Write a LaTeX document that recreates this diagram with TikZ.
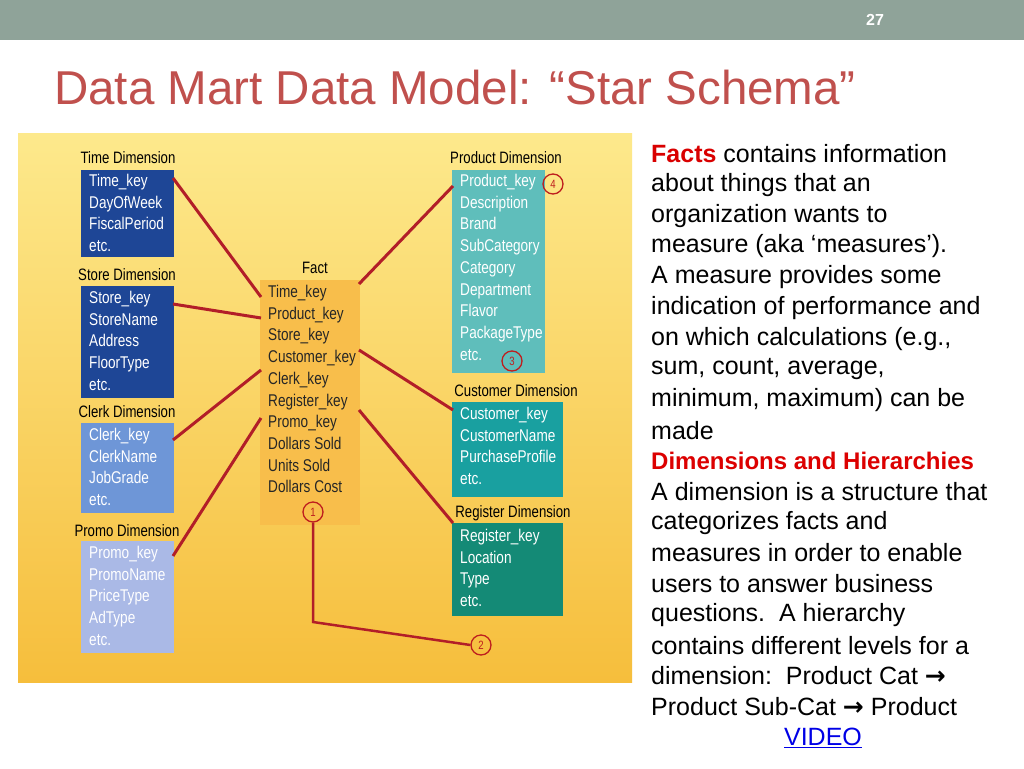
\documentclass[tikz,border=0pt]{standalone}
\usepackage{fontspec}
\setmainfont{Liberation Sans}
\newfontfamily\narrow[FakeStretch=0.8]{Liberation Sans}
\newfontfamily\dv{DejaVu Sans}
\begin{document}
\begin{tikzpicture}[x=1pt,y=-1pt,
  box/.style={anchor=north west,inner sep=0pt,draw=none},
  entries/.style={anchor=north west,align=left,text=white,font=\narrow\fontsize{17}{21.7}\selectfont,inner sep=0pt},
  lab/.style={font=\narrow\fontsize{16.5}{18}\selectfont,inner sep=0pt},
  link/.style={draw={rgb,255:red,178;green,30;blue,40},line width=3pt},
  numcirc/.style={circle,draw={rgb,255:red,190;green,30;blue,30},line width=1.3pt,minimum size=20pt,inner sep=0pt,font=\narrow\fontsize{12}{12}\selectfont,text={rgb,255:red,190;green,30;blue,30}},
  body/.style={anchor=west,inner sep=0pt,font=\fontsize{25}{28}\selectfont}]
\useasboundingbox (0,0) rectangle (1024,768);
\fill[white] (0,0) rectangle (1024,768);
\fill[color={rgb,255:red,143;green,163;blue,153}] (0,0) rectangle (1024,40);
\node[text=white,font=\bfseries\fontsize{16}{16}\selectfont] (pg) at (875,20) {27};
\node[anchor=west,inner sep=0pt,text={rgb,255:red,192;green,80;blue,77},font=\fontsize{47.5}{48}\selectfont] (title) at (54,88) {Data Mart Data Model: “Star Schema”};
\shade[top color={rgb,255:red,253;green,233;blue,140},bottom color={rgb,255:red,246;green,190;blue,60}] (18,133) rectangle (632,682);
\node[box,fill={rgb,255:red,30;green,70;blue,150},minimum width=93pt,minimum height=87pt] (time) at (81,170) {};
\node[box,fill={rgb,255:red,30;green,70;blue,150},minimum width=93pt,minimum height=112pt] (store) at (81,286) {};
\node[box,fill={rgb,255:red,110;green,150;blue,215},minimum width=93pt,minimum height=90pt] (clerk) at (81,423) {};
\node[box,fill={rgb,255:red,170;green,185;blue,230},minimum width=93pt,minimum height=112pt] (promo) at (81,541) {};
\node[box,fill={rgb,255:red,248;green,190;blue,75},minimum width=100pt,minimum height=245pt] (fact) at (260,280) {};
\node[box,fill={rgb,255:red,95;green,190;blue,187},minimum width=93pt,minimum height=203pt] (prod) at (452,170) {};
\node[box,fill={rgb,255:red,25;green,160;blue,160},minimum width=111pt,minimum height=95pt] (cust) at (452,402) {};
\node[box,fill={rgb,255:red,20;green,138;blue,118},minimum width=111pt,minimum height=93pt] (reg) at (452,523) {};
\node[lab] (timel) at (128,158) {Time Dimension};
\node[lab] (storel) at (127,275) {Store Dimension};
\node[lab] (clerkl) at (127,412) {Clerk Dimension};
\node[lab] (promol) at (127,531) {Promo Dimension};
\node[lab] (factl) at (315,268) {Fact};
\node[lab] (prodl) at (506,158) {Product Dimension};
\node[lab] (custl) at (516,391) {Customer Dimension};
\node[lab] (regl) at (513,513) {Register Dimension};
\node[entries] (timet) at (89,174) {Time\_key\\DayOfWeek\\FiscalPeriod\\etc.};
\node[entries] (storet) at (89,291) {Store\_key\\StoreName\\Address\\FloorType\\etc.};
\node[entries] (clerkt) at (89,428) {Clerk\_key\\ClerkName\\JobGrade\\etc.};
\node[entries] (promot) at (89,546) {Promo\_key\\PromoName\\PriceType\\AdType\\etc.};
\node[entries,text=black!85] (factt) at (268,285) {Time\_key\\Product\_key\\Store\_key\\Customer\_key\\Clerk\_key\\Register\_key\\Promo\_key\\Dollars Sold\\Units Sold\\Dollars Cost};
\node[entries] (prodt) at (460,174) {Product\_key\\Description\\Brand\\SubCategory\\Category\\Department\\Flavor\\PackageType\\etc.};
\node[entries] (custt) at (460,407) {Customer\_key\\CustomerName\\PurchaseProfile\\etc.};
\node[entries] (regt) at (460,529) {Register\_key\\Location\\Type\\etc.};
\coordinate (f1) at (261,297); \coordinate (f2) at (261,318);
\coordinate (f3) at (261,370); \coordinate (f4) at (261,418);
\coordinate (f5) at (359,284); \coordinate (f6) at (359,350); \coordinate (f7) at (359,410);
\coordinate (t1) at (173,178); \coordinate (s1) at (173,304);
\coordinate (c1) at (173,440); \coordinate (p1) at (173,556);
\coordinate (pr1) at (453,186); \coordinate (cu1) at (453,410); \coordinate (re1) at (453,523);
\draw[link] (t1) -- (f1); \draw[link] (s1) -- (f2);
\draw[link] (c1) -- (f3); \draw[link] (p1) -- (f4);
\draw[link] (pr1) -- (f5); \draw[link] (f6) -- (cu1); \draw[link] (f7) -- (re1);
\node[numcirc] (m1) at (313,512) {1};
\node[numcirc] (m2) at (481,645) {2};
\node[numcirc] (m3) at (512,361) {3};
\node[numcirc] (m4) at (553,184) {4};
\coordinate (bend) at (313,622);
\draw[link,line width=2.5pt] (m1.south) -- (bend) -- (m2.west);
\node[body] (r1) at (651,154) {\textcolor[rgb]{0.85,0,0}{\bfseries Facts} contains information};
\node[body] (r2) at (651,185) {about things that an};
\node[body] (r3) at (651,216) {organization wants to};
\node[body] (r4) at (651,246) {measure (aka ‘measures’).};
\node[body] (r5) at (651,277) {A measure provides some};
\node[body] (r6) at (651,308) {indication of performance and};
\node[body] (r7) at (651,339) {on which calculations (e.g.,};
\node[body] (r8) at (651,369) {sum, count, average,};
\node[body] (r9) at (651,400) {minimum, maximum) can be};
\node[body] (r10) at (651,431) {made};
\node[body,text={rgb,255:red,220;green,0;blue,0},font=\bfseries\fontsize{24}{28}\selectfont] (r11) at (651,461) {Dimensions and Hierarchies};
\node[body] (r12) at (651,492) {A dimension is a structure that};
\node[body] (r13) at (651,523) {categorizes facts and};
\node[body] (r14) at (651,553) {measures in order to enable};
\node[body] (r15) at (651,584) {users to answer business};
\node[body] (r16) at (651,615) {questions.\ \ A hierarchy};
\node[body] (r17) at (651,646) {contains different levels for a};
\node[body] (r18) at (651,676) {dimension:\ \ Product Cat {\dv\bfseries →}};
\node[body] (r19) at (651,707) {Product Sub-Cat {\dv\bfseries →} Product};
\node[body,anchor=center,text={rgb,255:red,0;green,0;blue,230}] (vid) at (823,738) {\underline{VIDEO}};
\end{tikzpicture}
\end{document}
